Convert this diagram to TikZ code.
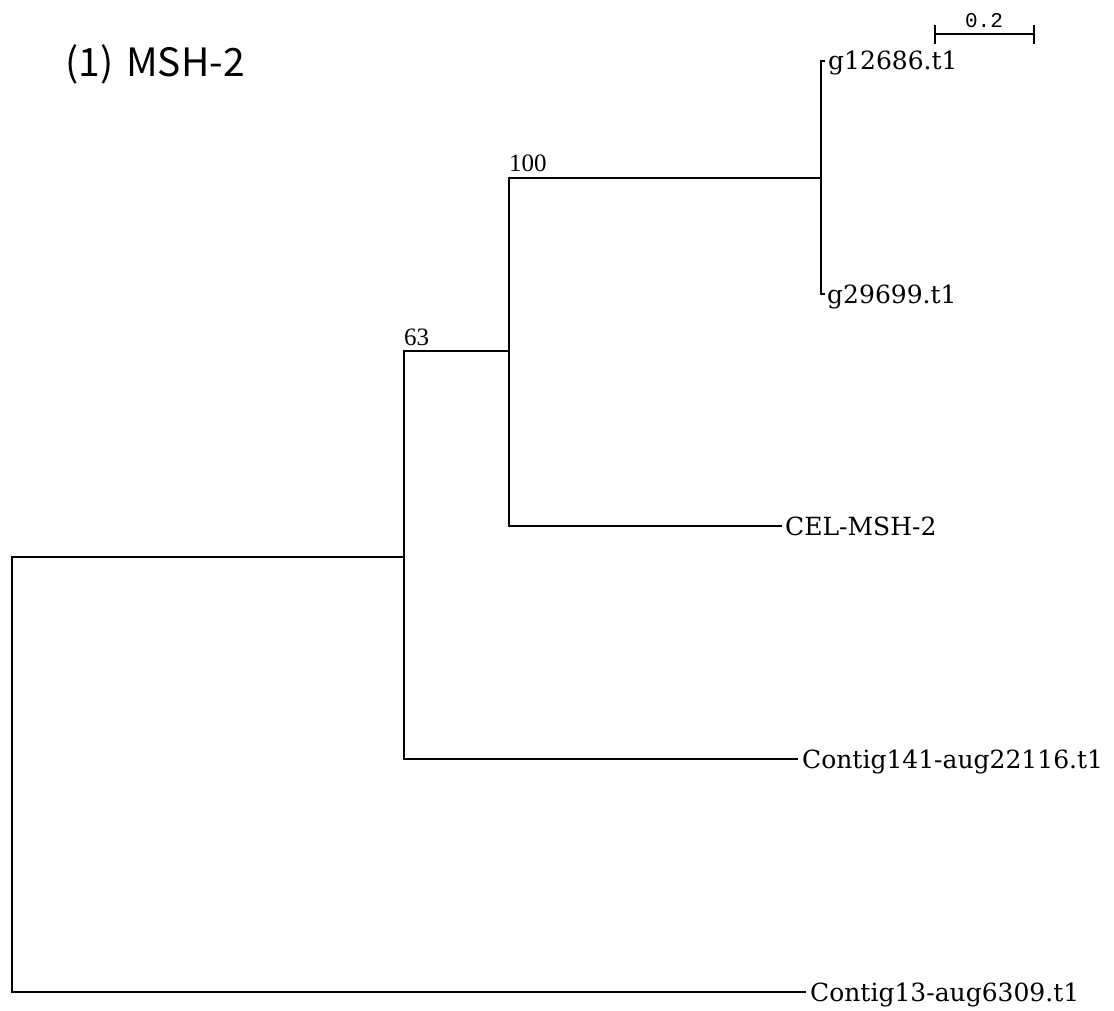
\documentclass[tikz,border=0pt]{standalone}
\usepackage{fontspec}
\newfontfamily\leaffont{DejaVu Serif}
\newfontfamily\bootfont{Liberation Serif}
\newfontfamily\scalefont{Liberation Mono}
\newfontfamily\titlefont{Noto Sans CJK JP}
\begin{document}
\begin{tikzpicture}[x=1pt,y=-1pt,
  branch/.style={line width=2pt, line join=miter},
  leaflab/.style={font=\leaffont\fontsize{25}{30}\selectfont, inner sep=0pt, anchor=base west},
  bootlab/.style={font=\bootfont\fontsize{25}{30}\selectfont, inner sep=0pt, anchor=base west},
  scalelab/.style={font=\scalefont\fontsize{21}{25}\selectfont, inner sep=0pt, anchor=base},
  titlelab/.style={font=\titlefont\fontsize{39}{46}\selectfont, inner sep=0pt, anchor=base west}]
\useasboundingbox (0,0) rectangle (1114,1011);

% title
\node[titlelab] (title) at (65,77) {(1)\,\,MSH-2};

% scale bar
\coordinate (sbL) at (935,34);
\coordinate (sbR) at (1034,34);
\draw[branch] (sbL) -- (sbR);
\draw[branch] ([yshift=-10pt]sbL) -- ([yshift=9pt]sbL);
\draw[branch] ([yshift=-10pt]sbR) -- ([yshift=9pt]sbR);
\node[scalelab] (sblab) at (984,28) {0.2};

% tree coordinates
\coordinate (root)  at (12,557);
\coordinate (rootb) at (12,992);
\coordinate (n63)   at (404,557);
\coordinate (n63t)  at (404,351);
\coordinate (n63b)  at (404,759);
\coordinate (n100)  at (509,351);
\coordinate (n100t) at (509,178);
\coordinate (n100b) at (509,526);
\coordinate (ng)    at (821,178);
\coordinate (ngt)   at (821,61);
\coordinate (ngb)   at (821,294);
\coordinate (t1)    at (825,61);
\coordinate (t2)    at (825,294);
\coordinate (tcel)  at (782,526);
\coordinate (t141)  at (798,759);
\coordinate (t13)   at (806,992);

% branches
\draw[branch] (n63) -- (root) -- (rootb) -- (t13);
\draw[branch] (n100) -- (n63t) -- (n63b) -- (t141);
\draw[branch] (ng) -- (n100t) -- (n100b) -- (tcel);
\draw[branch] (t1) -- (ngt) -- (ngb) -- (t2);

% leaf labels
\node[leaflab] (l1)   at (828,70)  {g12686.t1};
\node[leaflab] (l2)   at (827,303) {g29699.t1};
\node[leaflab] (lcel) at (785,535) {CEL-MSH-2};
\node[leaflab] (l141) at (802,768) {Contig141-aug22116.t1};
\node[leaflab] (l13)  at (810,1001) {Contig13-aug6309.t1};

% bootstrap labels
\node[bootlab] (b63)  at (404,345) {63};
\node[bootlab] (b100) at (509,172) {100};
\end{tikzpicture}
\end{document}
